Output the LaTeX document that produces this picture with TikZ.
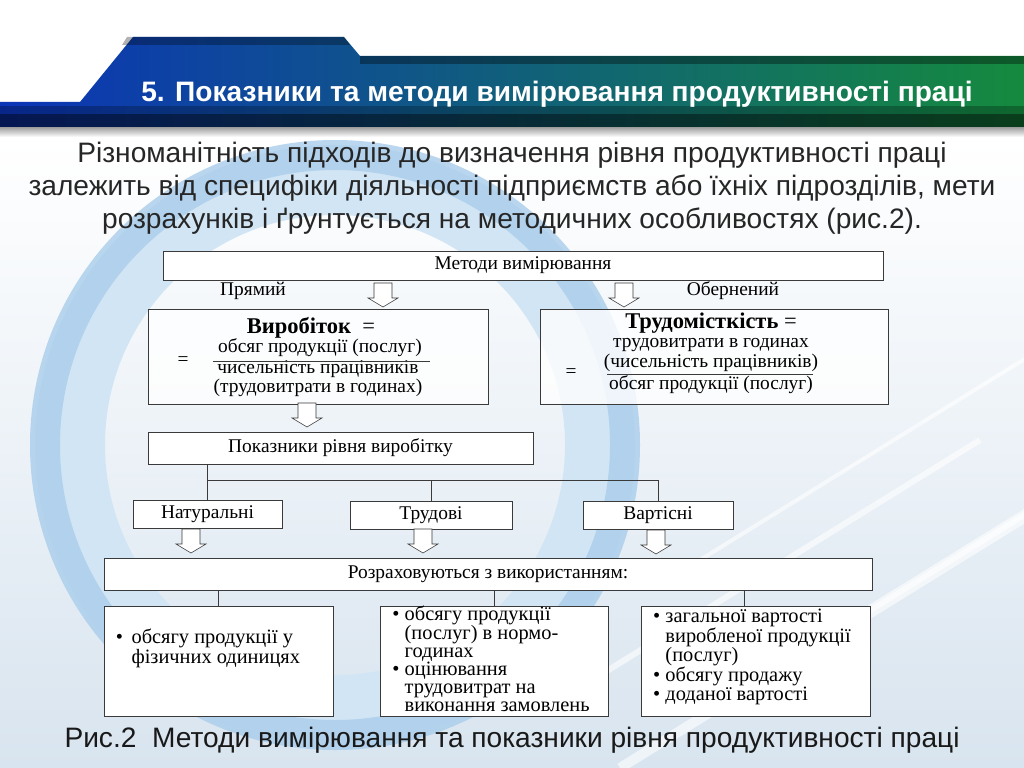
\documentclass[tikz,border=0pt]{standalone}
\usepackage{fontspec}
\setmainfont{Liberation Serif}
\newfontfamily\arialf{Liberation Sans}
\usetikzlibrary{positioning,calc}
\definecolor{frame}{HTML}{3A3A3A}
\definecolor{ringblue}{HTML}{A9CDEB}
\definecolor{ringpale}{HTML}{D2E5F4}
\definecolor{paleblue}{HTML}{D8E4EF}
\definecolor{bandblue}{HTML}{0C34B8}
\definecolor{bandmid}{HTML}{1750B0}
\definecolor{bandgreen}{HTML}{158A3E}
\def\pxu{0.025cm}

\begin{document}
\begin{tikzpicture}[x=0.025cm, y=-0.025cm,
  box/.style={draw=frame, fill=white, thin, minimum height=29*\pxu, inner sep=2pt, font=\fontsize{13.8}{12.5}\selectfont},
  fbox/.style={box, fill opacity=0.8, minimum height=95*\pxu},
  txt/.style={inner sep=0pt, font=\fontsize{13.8}{12.4}\selectfont, align=center},
  big/.style={inner sep=0pt, font=\fontsize{16}{18}\selectfont},
  lst/.style={inner sep=0pt, align=left, font=\fontsize{14.5}{12.5}\selectfont},
  link/.style={draw=frame, thin},
  downarr/.pic={\draw[frame, fill=white, thin] (-9,-12) -- (9,-12) -- (9,3) -- (15,3) -- (0,12) -- (-15,3) -- (-9,3) -- cycle;}]
\useasboundingbox (0,0) rectangle (1024,768);
\clip (0,0) rectangle (1024,768);
% background
\fill[white] (0,0) rectangle (1024,768);
\shade[top color=white, bottom color=paleblue] (0,140) rectangle (1024,768);
\draw[ringpale, line width=70*\pxu] (335,445) circle[radius=265];
\draw[ringblue, line width=30*\pxu, opacity=0.8] (335,445) circle[radius=290];
\foreach \a/\b/\w in {560/700/6, 620/768/10, 700/560/4, 820/640/8}
  \draw[white, line width=\w*\pxu, opacity=0.6] (\a,\b) -- ++(420,-260);
% title band
\shade[left color=bandblue, middle color=bandmid, right color=bandgreen]
  (133,37) -- (344,37) -- (360,56) -- (1024,56) -- (1024,128) -- (0,128) -- (0,102) -- (80,102) -- cycle;
\fill[black, opacity=0.3] (127,37) -- (344,37) -- (350,45) -- (122,45) -- cycle;
\fill[black, opacity=0.35] (360,56) rectangle (1024,64);
\fill[black, opacity=0.25] (0,106) rectangle (1024,114);
\fill[black, opacity=0.55] (0,114) rectangle (1024,128);
\shade[top color=black!35, bottom color=white] (0,128) rectangle (1024,137);
\node[font=\arialf\bfseries\fontsize{20}{22}\selectfont, text=white] (title) at (557,94) {5. Показники та методи вимірювання продуктивності праці};
\node[font=\arialf\fontsize{20}{23.5}\selectfont, align=center, text=black!85] (intro) at (512,188)
  {Різноманітність підходів до визначення рівня продуктивності праці\\
   залежить від специфіки діяльності підприємств або їхніх підрозділів, мети\\
   розрахунків і ґрунтується на методичних особливостях (рис.2).};

% methods
\node[box, minimum width=720*\pxu] (metody) at (523,265.5) {Методи вимірювання};
\node[txt] (pryamyi) at (253,291) {Прямий};
\node[txt] (obern) at (733,291) {Обернений};
\pic at (383,295) {downarr};
\pic at (624,295) {downarr};

% output formula
\node[fbox, minimum width=340*\pxu] (vyrob) at (318,357) {};
\node[big] (vyrobt) at (311,328) {\textbf{Виробіток}\ \ =};
\node[txt] (vnum) at (320,348) {обсяг продукції (послуг)};
\node[txt] (vden) at (318,379) {чисельність працівників\\(трудовитрати в годинах)};
\node[txt] (veq) at (183,361) {=};
\draw[frame] (213,361) -- (430,361);

% labour intensity formula
\node[fbox, minimum width=348*\pxu] (trud) at (714,357) {};
\node[big] (trudt) at (711,323) {\textbf{Трудомісткість} =};
\node[txt] (tnum) at (711,355) {трудовитрати в годинах\\(чисельність працівників)};
\node[txt] (tden) at (711,385) {обсяг продукції (послуг)};
\node[txt] (teq) at (571,373) {=};
\draw[frame] (607,374) -- (813,374);
\pic at (307,415) {downarr};

% indicators
\node[box, minimum width=385*\pxu, minimum height=32*\pxu] (pokaz) at (340.5,448) {Показники рівня виробітку};
\node[box, minimum width=149*\pxu, minimum height=28*\pxu] (nat) at (207.5,514) {Натуральні};
\node[box, minimum width=162*\pxu, minimum height=28*\pxu] (trudovi) at (431,515) {Трудові};
\node[box, minimum width=150*\pxu, minimum height=28*\pxu] (vart) at (658,515) {Вартісні};
\coordinate (br) at (0,480);
\draw[link] (pokaz.south -| nat.north) -- (nat.north);
\draw[link] (br -| nat.north) -- (br -| vart.north);
\draw[link] (br -| trudovi.north) -- (trudovi.north);
\draw[link] (br -| vart.north) -- (vart.north);
\pic at (191,541) {downarr};
\pic at (423,541) {downarr};
\pic at (656,542) {downarr};

% calculated with
\node[box, minimum width=768*\pxu, minimum height=32*\pxu] (rozr) at (488,574) {Розраховуються з використанням:};
\node[box, minimum width=229*\pxu, minimum height=110*\pxu] (b1) at (218.5,661) {};
\node[box, minimum width=228*\pxu, minimum height=110*\pxu] (b2) at (494,661) {};
\node[box, minimum width=229*\pxu, minimum height=110*\pxu] (b3) at (755.5,661) {};
\draw[link] (rozr.south -| b1.north) -- (b1.north);
\draw[link] (rozr.south -| b2.north) -- (b2.north);
\draw[link] ([xshift=-8pt]rozr.south -| b3.north) -- ([xshift=-8pt]b3.north);
\node[lst] (l1) at (208,649) {\begin{tabular}{@{}l@{\ \,}l@{}}\textbullet & обсягу продукції у\\ & фізичних одиницях\end{tabular}};
\node[lst] (l2) at (491,661) {\begin{tabular}{@{}l@{\ }l@{}}\textbullet & обсягу продукції\\ & (послуг) в нормо-\\ & годинах\\
  \textbullet & оцінювання\\ & трудовитрат на\\ & виконання замовлень\end{tabular}};
\node[lst] (l3) at (752,657) {\begin{tabular}{@{}l@{\ }l@{}}\textbullet & загальної вартості\\ & виробленої продукції\\ & (послуг)\\
  \textbullet & обсягу продажу\\ \textbullet & доданої вартості\end{tabular}};

% caption
\node[font=\arialf\fontsize{20}{22}\selectfont, text=black!90] (caption) at (512,740) {Рис.2\ \ Методи вимірювання та показники рівня продуктивності праці};
\end{tikzpicture}
\end{document}
